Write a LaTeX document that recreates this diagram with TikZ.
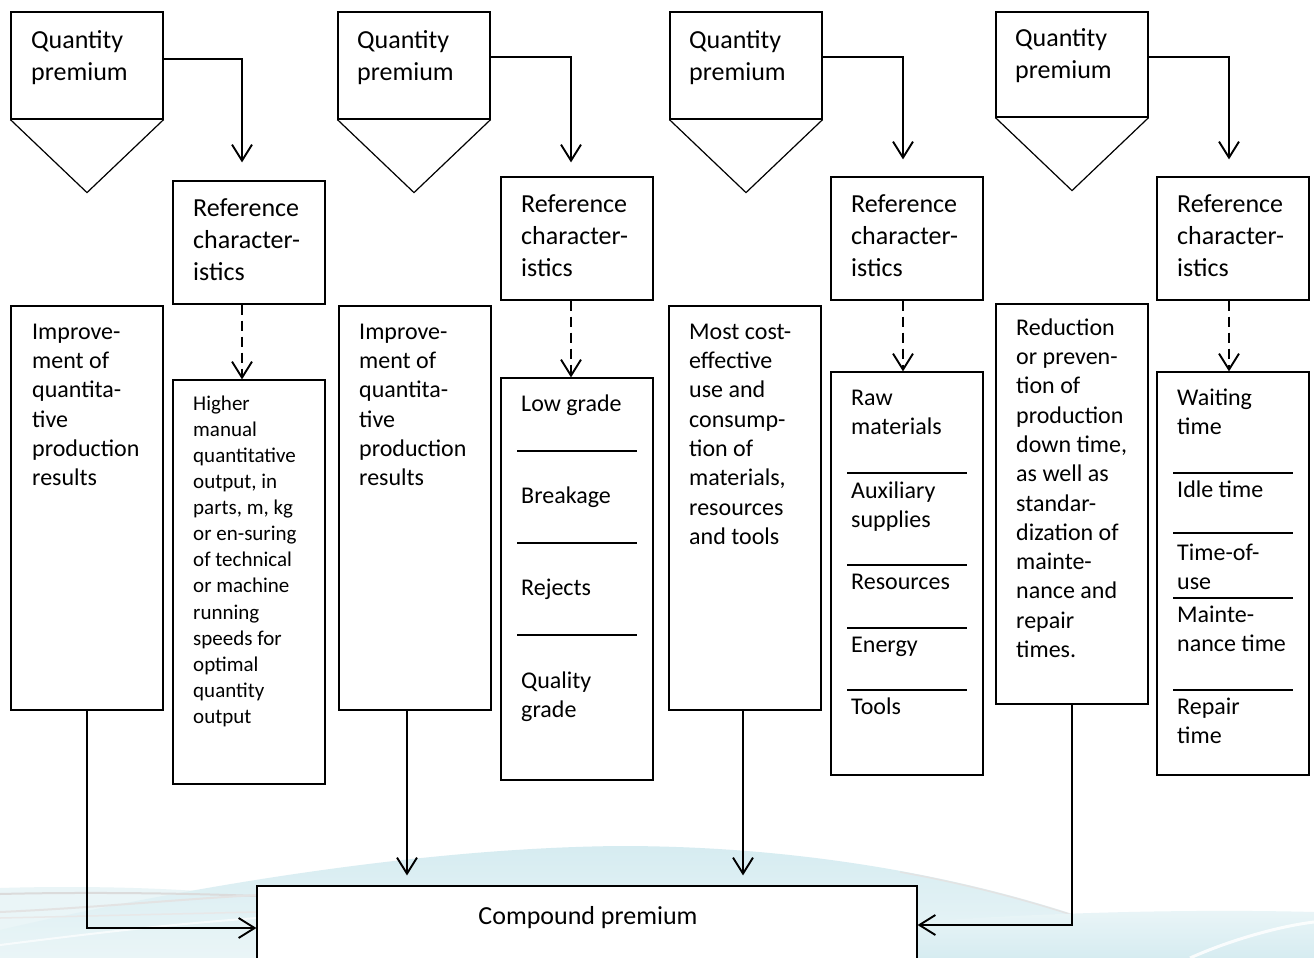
\documentclass[tikz,border=0pt]{standalone}
\usepackage{fontspec}
\setmainfont{Carlito}
\usetikzlibrary{arrows.meta,calc}

% strut that fixes the height of a first line of text
\newcommand\firststrut{\rule{0pt}{22pt}}

\definecolor{paleblue}{RGB}{214,236,241}
\definecolor{paleblueb}{RGB}{234,245,247}

\tikzset{
  box/.style={draw, line width=1.2pt, fill=white, inner sep=0pt,
              minimum width=152pt},
  hd/.style={anchor=north west, inner sep=0pt, align=left,
             font=\fontsize{26}{32}\selectfont},
  bd/.style={anchor=north west, inner sep=0pt, align=left,
             font=\fontsize{24}{29.3}\selectfont},
  sm/.style={anchor=north west, inner sep=0pt, align=left,
             font=\fontsize{21}{26.1}\selectfont},
  conn/.style={line width=2pt,
               -{Straight Barb[length=16pt,width=20pt,line width=1.9pt]}},
  dconn/.style={conn, dash pattern=on 10pt off 6pt},
  sepline/.style={line width=1.5pt},
  tri/.style={line width=1.2pt, line join=miter},
}

\begin{document}
\begin{tikzpicture}[x=1pt,y=-1pt]
\useasboundingbox (0,0) rectangle (1314,958);
\clip (0,0) rectangle (1314,958);
\fill[white] (0,0) rectangle (1314,958);

% soft blue swoosh along the bottom edge
\fill[paleblueb] (0,888) .. controls (100,885) and (200,889) .. (262,897)
  -- (262,958) -- (0,958) -- cycle;
\shade[top color=paleblue, bottom color=paleblueb]
  (0,958) -- (0,930) .. controls (150,895) and (400,848) .. (620,846)
  .. controls (850,846) and (1050,895) .. (1185,958) -- cycle;
\draw[gray!22, line width=1.5pt]
  (900,872) .. controls (1000,890) and (1100,920) .. (1185,958);
\shade[top color=paleblueb, bottom color=paleblue]
  (917,922) .. controls (1050,912) and (1200,909) .. (1314,912)
  -- (1314,958) -- (917,958) -- cycle;
\draw[white, line width=3pt, opacity=0.85]
  (1190,958) .. controls (1230,940) and (1280,926) .. (1314,922);
\draw[white, line width=2pt, opacity=0.7]
  (0,945) .. controls (80,935) and (160,925) .. (257,918);
\draw[gray!28, line width=2pt]
  (0,894) .. controls (80,892) and (180,893) .. (257,896);
\draw[gray!22, line width=2pt]
  (0,912) .. controls (90,908) and (170,900) .. (257,895);
\draw[gray!18, line width=1.5pt]
  (0,918) .. controls (90,916) and (170,914) .. (257,912);

% ---------- column 1 ----------
\node[box, minimum height=107pt] (q1) at (87,65.5) {};
\draw[tri] (q1.south west) -- ($(q1.south)+(0,73)$) -- (q1.south east);
\node[hd] (tq1) at (31,26) {\firststrut Quantity\\premium};
\node[box, minimum height=123pt] (ref1) at (249,242.5) {};
\node[hd] (tref1) at (193,194) {\firststrut Reference\\character-\\istics};
\node[box, minimum height=404pt] (impr1) at (87,508) {};
\node[bd] (timpr1) at (32,317) {\firststrut Improve-\\ment of\\quantita-\\tive\\production\\results};
\node[box, minimum height=404pt] (higher) at (249,582) {};
\node[sm] (thigher) at (193,388) {\firststrut Higher\\manual\\quantitative\\output, in\\parts, m, kg\\or en-suring\\of technical\\or machine\\running\\speeds for\\optimal\\quantity\\output};

% ---------- column 2 ----------
\node[box, minimum height=107pt] (q2) at (414,65.5) {};
\draw[tri] (q2.south west) -- ($(q2.south)+(0,73)$) -- (q2.south east);
\node[hd] (tq2) at (357,26) {\firststrut Quantity\\premium};
\node[box, minimum height=123pt] (ref2) at (577,238.5) {};
\node[hd] (tref2) at (521,190) {\firststrut Reference\\character-\\istics};
\node[box, minimum height=404pt] (impr2) at (415,508) {};
\node[bd] (timpr2) at (359,317) {\firststrut Improve-\\ment of\\quantita-\\tive\\production\\results};
\node[box, minimum height=402pt] (grade) at (577,579) {};
\node[bd] (tg1) at (521,389) {\firststrut Low grade};
\draw[sepline] (517,451) -- (637,451);
\node[bd] (tg2) at (521,481) {\firststrut Breakage};
\draw[sepline] (517,543) -- (637,543);
\node[bd] (tg3) at (521,573) {\firststrut Rejects};
\draw[sepline] (517,635) -- (637,635);
\node[bd] (tg4) at (521,666) {\firststrut Quality\\grade};

% ---------- column 3 ----------
\node[box, minimum height=107pt] (q3) at (746,65.5) {};
\draw[tri] (q3.south west) -- ($(q3.south)+(0,73)$) -- (q3.south east);
\node[hd] (tq3) at (689,26) {\firststrut Quantity\\premium};
\node[box, minimum height=123pt] (ref3) at (907,238.5) {};
\node[hd] (tref3) at (851,190) {\firststrut Reference\\character-\\istics};
\node[box, minimum height=404pt] (most) at (745,508) {};
\node[bd] (tmost) at (689,317) {\firststrut Most cost-\\effective\\use and\\consump-\\tion of\\materials,\\resources\\and tools};
\node[box, minimum height=403pt] (raw) at (907,573.5) {};
\node[bd] (tr1) at (851,383) {\firststrut Raw\\materials};
\draw[sepline] (847,473) -- (967,473);
\node[bd] (tr2) at (851,476) {\firststrut Auxiliary\\supplies};
\draw[sepline] (847,565) -- (967,565);
\node[bd] (tr3) at (851,567) {\firststrut Resources};
\draw[sepline] (847,628) -- (967,628);
\node[bd] (tr4) at (851,630) {\firststrut Energy};
\draw[sepline] (847,690) -- (967,690);
\node[bd] (tr5) at (851,692) {\firststrut Tools};

% ---------- column 4 ----------
\node[box, minimum height=105pt] (q4) at (1072,64.5) {};
\draw[tri] (q4.south west) -- ($(q4.south)+(0,73)$) -- (q4.south east);
\node[hd] (tq4) at (1015,24) {\firststrut Quantity\\premium};
\node[box, minimum height=123pt] (ref4) at (1233,238.5) {};
\node[hd] (tref4) at (1177,190) {\firststrut Reference\\character-\\istics};
\node[box, minimum height=400pt] (red) at (1072,504) {};
\node[bd] (tred) at (1016,313) {\firststrut Reduction\\or preven-\\tion of\\production\\down time,\\as well as\\standar-\\dization of\\mainte-\\nance and\\repair\\times.};
\node[box, minimum height=403pt] (wait) at (1233,573.5) {};
\node[bd] (tw1) at (1177,383) {\firststrut Waiting\\time};
\draw[sepline] (1173,473) -- (1293,473);
\node[bd] (tw2) at (1177,475) {\firststrut Idle time};
\draw[sepline] (1173,533) -- (1293,533);
\node[bd] (tw3) at (1177,538) {\firststrut Time-of-\\use};
\draw[sepline] (1173,598) -- (1293,598);
\node[bd] (tw4) at (1177,600) {\firststrut Mainte-\\nance time};
\draw[sepline] (1173,690) -- (1293,690);
\node[bd] (tw5) at (1177,692) {\firststrut Repair\\time};

% ---------- compound premium ----------
\node[box, minimum width=660pt, minimum height=84pt] (comp) at (587,928) {};
\node[font=\fontsize{26}{32}\selectfont, anchor=base, inner sep=0pt]
  (tcomp) at (588,924) {Compound premium};

% ---------- connectors ----------
\draw[conn, shorten >=18pt] ([yshift=6pt]q1.east) -| ([xshift=-7pt]ref1.north);
\draw[conn, shorten >=14pt] ([yshift=8pt]q2.east) -| ([xshift=-6pt]ref2.north);
\draw[conn, shorten >=17pt] ([yshift=8pt]q3.east) -| ([xshift=-4pt]ref3.north);
\draw[conn, shorten >=17pt] ([yshift=7pt]q4.east) -| ([xshift=-4pt]ref4.north);

\draw[dconn] ([xshift=-7pt]ref1.south) -- ([xshift=-7pt]higher.north);
\draw[dconn] ([xshift=-6pt]ref2.south) -- ([xshift=-6pt]grade.north);
\draw[dconn] ([xshift=-4pt]ref3.south) -- ([xshift=-4pt]raw.north);
\draw[dconn] ([xshift=-4pt]ref4.south) -- ([xshift=-4pt]wait.north);

\coordinate (b2) at ([xshift=-8pt]impr2.south);
\coordinate (b3) at ([xshift=-2pt]most.south);
\draw[conn] (impr1.south) |- (comp.west);
\draw[conn, shorten >=10pt] (b2) -- (b2 |- comp.north);
\draw[conn, shorten >=10pt] (b3) -- (b3 |- comp.north);
\draw[conn] (red.south) |- ([yshift=3pt]comp.east);
\end{tikzpicture}
\end{document}
